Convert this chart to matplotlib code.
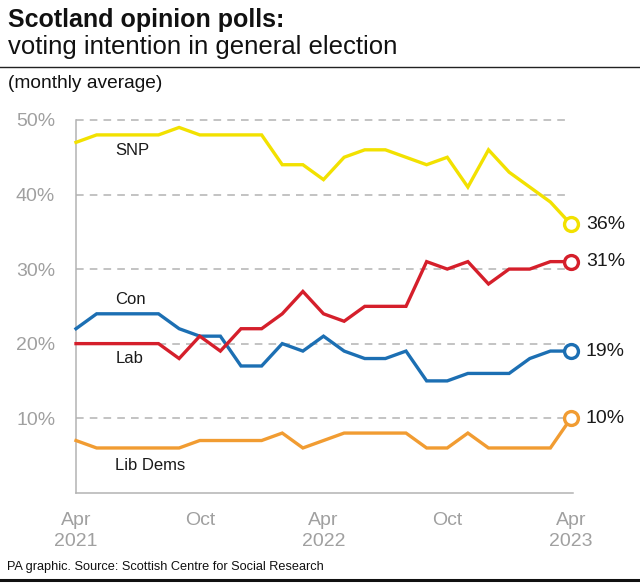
import matplotlib
matplotlib.use("Agg")
import matplotlib.pyplot as plt

plt.rcParams['font.family'] = ['Liberation Sans', 'DejaVu Sans']

months = list(range(25))  # Apr 2021 .. Apr 2023
snp = [47, 48, 48, 48, 48, 49, 48, 48, 48, 48, 44, 44, 42, 45, 46, 46, 45, 44, 45, 41, 46, 43, 41, 39, 36]
lab = [20, 20, 20, 20, 20, 18, 21, 19, 22, 22, 24, 27, 24, 23, 25, 25, 25, 31, 30, 31, 28, 30, 30, 31, 31]
con = [22, 24, 24, 24, 24, 22, 21, 21, 17, 17, 20, 19, 21, 19, 18, 18, 19, 15, 15, 16, 16, 16, 18, 19, 19]
ld = [7, 6, 6, 6, 6, 6, 7, 7, 7, 7, 8, 6, 7, 8, 8, 8, 8, 6, 6, 8, 6, 6, 6, 6, 10]

series = [
    ("SNP", snp, "#f2e100"),
    ("Lab", lab, "#d51f2b"),
    ("Con", con, "#1c6fb3"),
    ("Lib Dems", ld, "#f19c32"),
]
label_pos = {"SNP": (1.9, 45.9), "Con": (1.9, 25.9), "Lab": (1.9, 18.0), "Lib Dems": (1.9, 3.7)}

xticks = [0, 6, 12, 18, 24]
xticklabels = ["Apr\n2021", "Oct", "Apr\n2022", "Oct", "Apr\n2023"]
yticks = [10, 20, 30, 40, 50]
yticklabels = ["10%", "20%", "30%", "40%", "50%"]

W, H = 640, 584
fig = plt.figure(figsize=(W / 100, H / 100), dpi=100)

def px(x, y):
    return x / W, 1 - y / H

left, right, top, bottom = 76, 573, 120, 492.7
ax = fig.add_axes([left / W, 1 - bottom / H, (right - left) / W, (bottom - top) / H])
ax.set_xlim(0, 24 * (right - left) / (571 - left))
ax.set_ylim(0, 50)

for y in yticks:
    ax.plot([0, 24], [y, y], color="#b3b3b3", lw=1.1, ls=(0, (5, 4)), zorder=1, clip_on=False)

order = ["Lib Dems", "Con", "Lab", "SNP"]
for name, vals, col in sorted(series, key=lambda s: order.index(s[0])):
    ax.plot(months, vals, color=col, lw=2.4, solid_joinstyle="miter", zorder=3, clip_on=False)
    ax.plot(months[-1], vals[-1], marker="o", ms=10, mfc="white", mec=col, mew=2.4, zorder=4, clip_on=False)
    ax.text(months[-1] + 0.72, vals[-1], f"{vals[-1]}%", fontsize=14, color="#1a1a1a",
            va="center", ha="left")
    lx, ly = label_pos[name]
    ax.text(lx, ly, name, fontsize=12, color="#1a1a1a", va="center", ha="left")

for s in ["top", "right"]:
    ax.spines[s].set_visible(False)
for s in ["left", "bottom"]:
    ax.spines[s].set_color("#b3b3b3")
    ax.spines[s].set_linewidth(1.1)

ax.set_yticks(yticks)
ax.set_yticklabels(yticklabels)
ax.set_xticks(xticks)
ax.set_xticklabels(xticklabels, linespacing=1.3)
ax.tick_params(axis="both", length=0, labelsize=14, labelcolor="#a0a0a0")
ax.tick_params(axis="y", pad=15)
ax.tick_params(axis="x", pad=14)

fig.text(*px(8, 20), "Scotland opinion polls:", fontsize=18, fontweight="bold", color="#111111", va="center")
fig.text(*px(8, 47), "voting intention in general election", fontsize=18.5, color="#111111", va="center")
line = plt.Line2D([0, 1], [1 - 67 / H, 1 - 67 / H], transform=fig.transFigure, color="#222222", lw=1.0)
fig.add_artist(line)
fig.text(*px(8, 84), "(monthly average)", fontsize=13.8, color="#111111", va="center")
fig.text(*px(7, 567), "PA graphic. Source: Scottish Centre for Social Research", fontsize=9.2, color="#111111", va="center")
line2 = plt.Line2D([0, 1], [1 - 580 / H, 1 - 580 / H], transform=fig.transFigure, color="#111111", lw=2.2)
fig.add_artist(line2)

fig.savefig("out.png", dpi=100)
